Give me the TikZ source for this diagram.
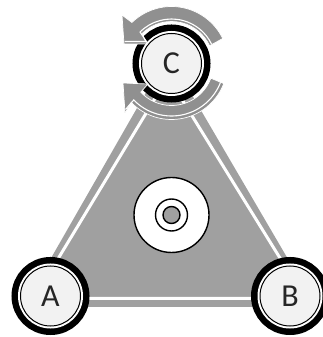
\documentclass[tikz,border=0pt]{standalone}
\usepackage{fontspec}
\setmainfont{Carlito}
\definecolor{plategray}{HTML}{A0A0A0}
\definecolor{arrowgray}{HTML}{909090}
\definecolor{ballgray}{HTML}{F2F2F2}

\begin{document}
\begin{tikzpicture}[
  x=1pt,y=1pt,
  ball/.style={circle,draw=black,line width=1pt,fill=ballgray,minimum size=60pt,inner sep=0pt,text=black!85,font=\fontsize{32}{32}\selectfont,
    preaction={draw=black,line width=18pt},preaction={draw=white,line width=5pt}},
  ring/.style={circle,draw=black,line width=1.4pt,inner sep=0pt},
  turn/.style={fill=arrowgray,draw=white,line width=.7pt},
  glint/.style={draw=white,line width=1.1pt}
]
  \useasboundingbox (0,0) rectangle (323,337);
  \clip (0,0) rectangle (323,337);
  \coordinate (p1) at (23,30);
  \coordinate (p2) at (316,30);
  \coordinate (p3) at (168,283);
  \coordinate (w1) at (34,38.5);
  \coordinate (w2) at (305,38.5);
  \coordinate (w3) at (168,260);
  \fill[plategray] (p1) -- (p2) -- (p3) -- cycle;
  \draw[white,line width=3pt] (w1) -- (w2) -- (w3) -- cycle;

  \node[ring,fill=white,minimum size=75pt] (disc) at (171.5,122) {};
  \node[ring,fill=white,minimum size=32pt] (hub) at (disc) {};
  \node[ring,fill=plategray,minimum size=17pt] (bore) at (disc) {};

  \node[ball] (A) at (50.5,41) {A};
  \node[ball] (B) at (290,41) {B};
  \node[ball] (C) at (171.5,273.5) {C};

  \begin{scope}[shift={(C)}]
    % upper arrow
    \path[turn] (26:57) arc (26:134:57) -- (-49.5,48.5) -- (-47.5,19.5) -- (-24.5,19.5) -- (135:42) arc (135:25:42) -- cycle;
    \draw[glint] (-47,22) -- (-25,22) -- (135:44.5) arc (135:26:44.5);
    % lower arrow
    \path[turn] (-21:56) arc (-21:-136:56) -- (-46.5,-49.5) -- (-48.5,-19.5) -- (-23.5,-20.5) -- (-137:42) arc (-137:-20.5:42) -- cycle;
    \draw[glint] (-46,-46) -- (-136:52.5) arc (-136:-21:52.5);
  \end{scope}
\end{tikzpicture}
\end{document}
